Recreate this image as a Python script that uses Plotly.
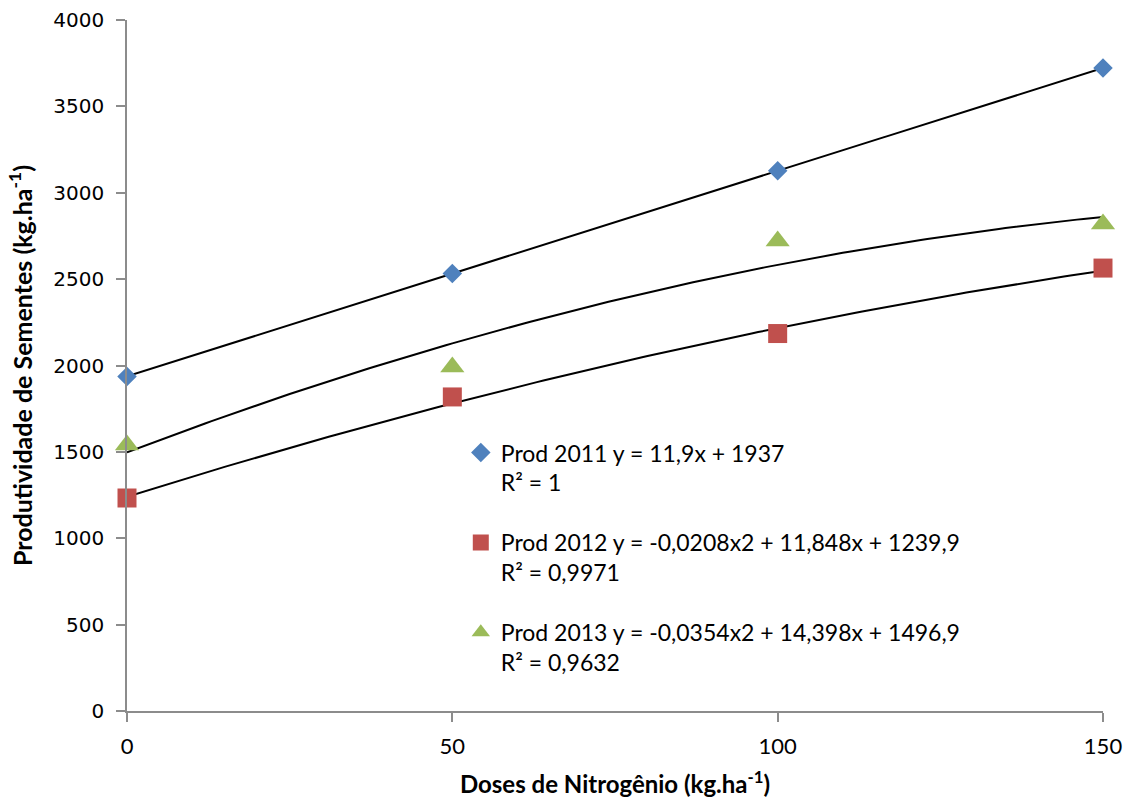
import numpy as np
import plotly.graph_objects as go

# Nitrogen doses (kg/ha) and seed yield (kg/ha) per season
doses = [0, 50, 100, 150]
prod_2011 = [1937, 2532, 3127, 3722]
prod_2012 = [1233, 1818, 2185, 2564]
prod_2013 = [1540, 1991, 2721, 2819]

# Trendline coefficients (highest degree first) as printed in the legend
coef_2011 = [11.9, 1937]
coef_2012 = [-0.0208, 11.848, 1239.9]
coef_2013 = [-0.0354, 14.398, 1496.9]

labels = [
    "Prod 2011 y = 11,9x + 1937<br>R² = 1",
    "Prod 2012 y = -0,0208x2 + 11,848x + 1239,9<br>R² = 0,9971",
    "Prod 2013 y = -0,0354x2 + 14,398x + 1496,9<br>R² = 0,9632",
]

x_ticks = [0, 50, 100, 150]
y_ticks = [0, 500, 1000, 1500, 2000, 2500, 3000, 3500, 4000]

FONT = "Lato"
series = [
    (prod_2011, coef_2011, "#4F81BD", "diamond", 15, labels[0]),
    (prod_2012, coef_2012, "#C0504D", "square", 19, labels[1]),
    (prod_2013, coef_2013, "#9BBB59", "triangle-up", 21, labels[2]),
]

fig = go.Figure()
xs = np.linspace(0, 150, 151)
for i, (vals, coef, color, symbol, size, name) in enumerate(series):
    fig.add_trace(go.Scatter(
        x=xs, y=np.polyval(coef, xs), mode="lines",
        line=dict(color="black", width=2), showlegend=False, hoverinfo="skip",
        cliponaxis=False,
    ))
for i, (vals, coef, color, symbol, size, name) in enumerate(series):
    fig.add_trace(go.Scatter(
        x=doses, y=vals, mode="markers", name=name,
        legendgroup=f"g{i}", cliponaxis=False,
        marker=dict(symbol=symbol, size=size, color=color,
                    line=dict(width=0)),
    ))

axis_common = dict(
    showgrid=False, zeroline=False, showline=True,
    linecolor="#8c8c8c", linewidth=1.5,
    ticks="outside", ticklen=9, tickwidth=1.5, tickcolor="#8c8c8c",
    automargin=False,
)

fig.update_layout(
    width=1135, height=800,
    margin=dict(l=127, r=32, t=20, b=89),
    paper_bgcolor="white", plot_bgcolor="white",
    font=dict(family=FONT, color="black"),
    xaxis=dict(range=[0, 150], tickvals=x_ticks, **axis_common,
               tickfont=dict(family=FONT, size=22, color="black"),
               ticklabelstandoff=6,
               title=dict(text="<b>Doses de Nitrogênio (kg.ha<sup>-1</sup>)</b>",
                          font=dict(family=FONT, size=24), standoff=18)),
    yaxis=dict(range=[0, 4000], tickvals=y_ticks, **axis_common,
               tickfont=dict(family="DejaVu Sans", size=20, color="black"),
               ticklabelstandoff=8,
               title=dict(text="<b>Produtividade de Sementes (kg.ha<sup>-1</sup>)</b>",
                          font=dict(family=FONT, size=25), standoff=14)),
    legend=dict(
        x=0.342, y=0.405, xanchor="left", yanchor="top",
        bgcolor="rgba(0,0,0,0)", valign="top",
        font=dict(family=FONT, size=23, color="black"),
        tracegroupgap=27, itemwidth=30,
    ),
    showlegend=True,
)

fig.write_html("out.html")
